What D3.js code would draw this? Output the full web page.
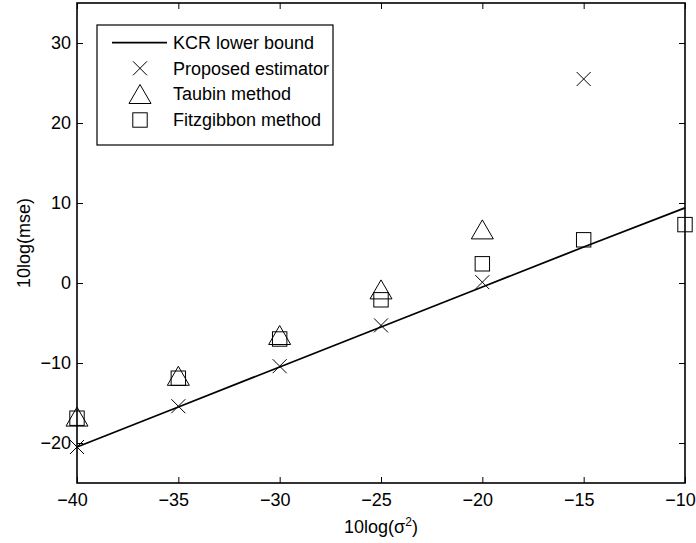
<!DOCTYPE html>
<html>
<head>
<meta charset="utf-8">
<script src="https://cdn.jsdelivr.net/npm/d3@7"></script>
<style>
  body { margin: 0; background: #fff; }
  svg { display: block; font-family: "Liberation Sans", Arial, sans-serif; }
</style>
</head>
<body>
<svg id="chart" width="696" height="543"></svg>
<script>
// noise levels 10log(sigma^2)
const sigmaDb = [-40, -35, -30, -25, -20, -15, -10];
// KCR lower bound (straight line)
const kcrBound = [-20.5, -15.5, -10.5, -5.5, -0.5, 4.5, 9.4];
// proposed estimator (no point shown at -10)
const proposedX = [-40, -35, -30, -25, -20, -15];
const proposed = [-20.5, -15.4, -10.4, -5.3, 0.1, 25.5];
// Taubin method (diverges beyond -20)
const taubinX = [-40, -35, -30, -25, -20];
const taubin = [-16.7, -11.6, -6.5, -0.8, 6.7];
// Fitzgibbon method
const fitzX = [-40, -35, -30, -25, -20, -15, -10];
const fitz = [-16.9, -11.9, -7.0, -2.1, 2.4, 5.4, 7.3];

const xTicks = [-40, -35, -30, -25, -20, -15, -10];
const yTicks = [-20, -10, 0, 10, 20, 30];
const legendLabels = ["KCR lower bound", "Proposed estimator", "Taubin method", "Fitzgibbon method"];

const svg = d3.select("#chart");
const plotL = 77, plotR = 685, plotT = 3, plotB = 483;
const fontSize = 18;

const x = d3.scaleLinear().domain([-40, -10]).range([plotL, plotR]);
const y = d3.scaleLinear().domain([-25, 35]).range([plotB, plotT]);

// marker shapes
function drawCross(g, cx, cy) {
    const s = 7;
    g.append("path")
        .attr("d", `M${cx - s},${cy - s}L${cx + s},${cy + s}M${cx - s},${cy + s}L${cx + s},${cy - s}`)
        .attr("stroke", "#000").attr("stroke-width", 1).attr("fill", "none");
}
function drawTriangle(g, cx, cy) {
    const w = 11, h = 9.5;
    g.append("path")
        .attr("d", `M${cx},${cy - h}L${cx + w},${cy + h}L${cx - w},${cy + h}Z`)
        .attr("stroke", "#000").attr("stroke-width", 1).attr("fill", "none");
}
function drawSquare(g, cx, cy) {
    const s = 7.2;
    g.append("rect")
        .attr("x", cx - s).attr("y", cy - s).attr("width", 2 * s).attr("height", 2 * s)
        .attr("stroke", "#000").attr("stroke-width", 1).attr("fill", "none");
}

// axes box with inward ticks on all sides
const tickLen = 6;
const axisG = svg.append("g").attr("font-size", fontSize);
const fmt = d => String(d).replace("-", "\u2212");

axisG.append("g")
    .attr("transform", `translate(0,${plotB})`)
    .call(d3.axisBottom(x).tickValues(xTicks).tickSizeInner(-tickLen).tickSizeOuter(0).tickPadding(10).tickFormat(fmt))
    .call(g => g.select(".domain").remove())
    .call(g => g.selectAll("text").attr("fill", "#000").attr("font-size", fontSize).attr("dx", -5));

axisG.append("g")
    .attr("transform", `translate(0,${plotT})`)
    .call(d3.axisTop(x).tickValues(xTicks).tickSizeInner(-tickLen).tickSizeOuter(0).tickFormat(""))
    .call(g => g.select(".domain").remove());

axisG.append("g")
    .attr("transform", `translate(${plotL},0)`)
    .call(d3.axisLeft(y).tickValues(yTicks).tickSizeInner(-tickLen).tickSizeOuter(0).tickPadding(6).tickFormat(fmt))
    .call(g => g.select(".domain").remove())
    .call(g => g.selectAll("text").attr("fill", "#000").attr("font-size", fontSize));

axisG.append("g")
    .attr("transform", `translate(${plotR},0)`)
    .call(d3.axisRight(y).tickValues(yTicks).tickSizeInner(-tickLen).tickSizeOuter(0).tickFormat(""))
    .call(g => g.select(".domain").remove());

axisG.selectAll(".tick line").attr("stroke", "#000").attr("stroke-width", 1);
axisG.selectAll("g").attr("font-family", null);

svg.append("rect")
    .attr("x", plotL).attr("y", plotT).attr("width", plotR - plotL).attr("height", plotB - plotT)
    .attr("fill", "none").attr("stroke", "#000").attr("stroke-width", 1.6);

// KCR line
const line = d3.line().x((d, i) => x(sigmaDb[i])).y(d => y(d));
svg.append("path")
    .datum(kcrBound)
    .attr("d", line)
    .attr("fill", "none").attr("stroke", "#000").attr("stroke-width", 1.8);

const marks = svg.append("g");
proposed.forEach((v, i) => drawCross(marks, x(proposedX[i]), y(v)));
taubin.forEach((v, i) => drawTriangle(marks, x(taubinX[i]), y(v)));
fitz.forEach((v, i) => drawSquare(marks, x(fitzX[i]), y(v)));

// legend
const leg = svg.append("g");
leg.append("rect")
    .attr("x", 97).attr("y", 25).attr("width", 236).attr("height", 120)
    .attr("fill", "#fff").attr("stroke", "#000").attr("stroke-width", 1.2);
const rowY = [42.7, 68.3, 94, 120];
leg.append("line")
    .attr("x1", 112).attr("x2", 167).attr("y1", rowY[0]).attr("y2", rowY[0])
    .attr("stroke", "#000").attr("stroke-width", 1.8);
drawCross(leg, 140, rowY[1]);
drawTriangle(leg, 140, rowY[2]);
drawSquare(leg, 140, rowY[3]);
legendLabels.forEach((t, i) => {
    leg.append("text")
        .attr("x", 173).attr("y", rowY[i])
        .attr("dy", "0.35em")
        .attr("font-size", fontSize)
        .text(t);
});

// axis labels
const xl = svg.append("text")
    .attr("x", (plotL + plotR) / 2).attr("y", 533)
    .attr("text-anchor", "middle").attr("font-size", fontSize);
xl.append("tspan").text("10log(\u03c3");
xl.append("tspan").attr("font-size", 12).attr("dy", -7).text("2");
xl.append("tspan").attr("dy", 7).text(")");

svg.append("text")
    .attr("transform", `translate(30,${(plotT + plotB) / 2}) rotate(-90)`)
    .attr("text-anchor", "middle").attr("font-size", fontSize)
    .text("10log(mse)");
</script>
</body>
</html>
